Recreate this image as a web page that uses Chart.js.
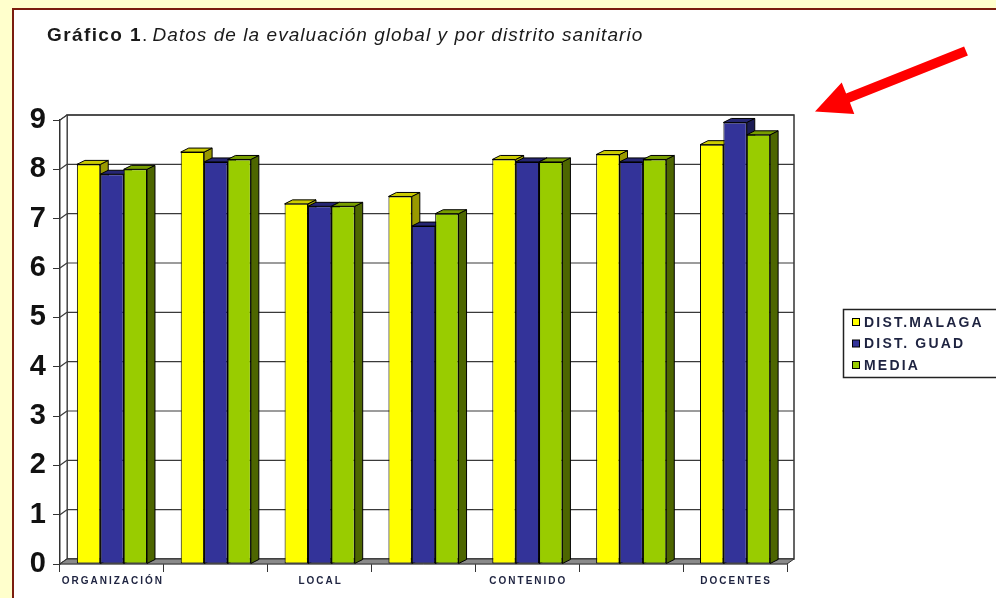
<!DOCTYPE html>
<html>
<head>
<meta charset="utf-8">
<script src="https://cdn.jsdelivr.net/npm/chart.js@4.4.1/dist/chart.umd.min.js"></script>
<style>
  html, body { margin: 0; padding: 0; width: 996px; height: 598px; overflow: hidden; background: #FFFFCC; }
  #frame { position: absolute; left: 12px; top: 8px; width: 1000px; height: 600px; background: #fff;
           border-left: 2px solid #7B1D0E; border-top: 2px solid #7B1D0E; box-sizing: border-box; }
  #wrap { position: absolute; left: 0; top: 0; width: 996px; height: 598px; }
  #title { position: absolute; left: 47px; top: 24px; font-family: "Liberation Sans", Arial, sans-serif;
           font-size: 19px; color: #1a1a1a; white-space: nowrap; }
  #title b { letter-spacing: 1.4px; }
  #title i { letter-spacing: 1.05px; }
</style>
</head>
<body>
<div id="frame"></div>
<div id="wrap"><canvas id="c" width="996" height="598"></canvas></div>
<div id="title"><b>Gráfico 1</b>. <i>Datos de la evaluación global y por distrito sanitario</i></div>
<script>
// Categories (only every other one carries a printed label on the axis)
const categories = ['ORGANIZACIÓN', '', 'LOCAL', '', 'CONTENIDO', '', 'DOCENTES'];

// Series values
const distMalaga = [8.1, 8.35, 7.3, 7.45, 8.2, 8.3, 8.5];
const distGuad   = [7.9, 8.15, 7.25, 6.85, 8.15, 8.15, 8.95];
const media      = [8.0, 8.2, 7.25, 7.1, 8.15, 8.2, 8.7];

const seriesNames = ['DIST.MALAGA', 'DIST. GUAD', 'MEDIA'];

// Value axis ticks
const yMin = 0, yMax = 9, yStep = 1;

// Face colours: front, top, side
const frontColors = ['#FFFF00', '#333399', '#99CC00'];
const topColors   = ['#CCCC00', '#262673', '#789E00'];
const sideColors  = ['#999900', '#1C1C55', '#4D6600'];

const FONT = '"Liberation Sans", Arial, sans-serif';
const WALL = { dx: 7, dy: 5 };   // depth of back wall
const BAR  = { dx: 8, dy: 4 };   // depth of each column

// Draws walls, floor, back gridlines and the top/side faces of the columns
const scene3d = {
  id: 'scene3d',
  beforeDatasetsDraw(chart) {
    const ctx = chart.ctx, a = chart.chartArea, ys = chart.scales.y;
    ctx.save();
    ctx.lineJoin = 'miter';
    // back wall
    ctx.fillStyle = '#fff';
    ctx.strokeStyle = '#333';
    ctx.lineWidth = 1.5;
    ctx.fillRect(a.left + WALL.dx, a.top - WALL.dy, a.right - a.left, a.bottom - a.top);
    ctx.strokeRect(a.left + WALL.dx, a.top - WALL.dy, a.right - a.left, a.bottom - a.top);
    // left side wall
    ctx.beginPath();
    ctx.moveTo(a.left, a.top);
    ctx.lineTo(a.left + WALL.dx, a.top - WALL.dy);
    ctx.lineTo(a.left + WALL.dx, a.bottom - WALL.dy);
    ctx.lineTo(a.left, a.bottom);
    ctx.closePath();
    ctx.fill();
    ctx.lineWidth = 1;
    ctx.stroke();
    // gridlines on the back wall + connectors on the side wall
    ctx.strokeStyle = '#3a3a3a';
    ctx.lineWidth = 1.2;
    for (let v = yMin; v <= yMax; v += yStep) {
      const py = ys.getPixelForValue(v);
      ctx.beginPath();
      ctx.moveTo(a.left + WALL.dx, py - WALL.dy);
      ctx.lineTo(a.right + WALL.dx, py - WALL.dy);
      ctx.stroke();
      ctx.beginPath();
      ctx.moveTo(a.left, py);
      ctx.lineTo(a.left + WALL.dx, py - WALL.dy);
      ctx.stroke();
    }
    // floor
    ctx.beginPath();
    ctx.moveTo(a.left, a.bottom);
    ctx.lineTo(a.left + WALL.dx, a.bottom - WALL.dy);
    ctx.lineTo(a.right + WALL.dx, a.bottom - WALL.dy);
    ctx.lineTo(a.right, a.bottom);
    ctx.closePath();
    ctx.fillStyle = '#8a8a8a';
    ctx.fill();
    ctx.strokeStyle = '#333';
    ctx.lineWidth = 1;
    ctx.stroke();

    // column top and side faces, left to right
    ctx.strokeStyle = '#000';
    ctx.lineWidth = 1;
    const n = chart.data.labels.length;
    for (let j = 0; j < n; j++) {
      chart.data.datasets.forEach((ds, i) => {
        const el = chart.getDatasetMeta(i).data[j];
        const p = el.getProps(['x', 'y', 'width', 'base'], true);
        const x1 = p.x - p.width / 2, x2 = p.x + p.width / 2;
        // side
        ctx.beginPath();
        ctx.moveTo(x2, p.y);
        ctx.lineTo(x2 + BAR.dx, p.y - BAR.dy);
        ctx.lineTo(x2 + BAR.dx, p.base - BAR.dy);
        ctx.lineTo(x2, p.base);
        ctx.closePath();
        ctx.fillStyle = sideColors[i];
        ctx.fill();
        ctx.stroke();
        // top
        ctx.beginPath();
        ctx.moveTo(x1, p.y);
        ctx.lineTo(x1 + BAR.dx, p.y - BAR.dy);
        ctx.lineTo(x2 + BAR.dx, p.y - BAR.dy);
        ctx.lineTo(x2, p.y);
        ctx.closePath();
        ctx.fillStyle = topColors[i];
        ctx.fill();
        ctx.stroke();
      });
    }
    ctx.restore();
  },
  afterDraw(chart) {
    const ctx = chart.ctx, xs = chart.scales.x;
    ctx.save();
    // category labels
    ctx.font = 'bold 10px ' + FONT;
    ctx.fillStyle = '#1E2340';
    ctx.textAlign = 'center';
    ctx.textBaseline = 'middle';
    ctx.letterSpacing = '2px';
    chart.data.labels.forEach((lab, j) => {
      if (lab) ctx.fillText(lab, xs.getPixelForValue(j) + 1, 581);
    });

    // legend box
    ctx.letterSpacing = '0px';
    ctx.strokeStyle = '#222';
    ctx.lineWidth = 1.5;
    ctx.fillStyle = '#fff';
    ctx.fillRect(843.5, 309.5, 200, 68);
    ctx.strokeRect(843.5, 309.5, 200, 68);
    ctx.font = 'bold 14px ' + FONT;
    ctx.textAlign = 'left';
    ctx.letterSpacing = '2.2px';
    const rowY = [322, 343.5, 365];
    chart.data.datasets.forEach((ds, i) => {
      ctx.fillStyle = frontColors[i];
      ctx.fillRect(852.5, rowY[i] - 3.5, 7, 7);
      ctx.strokeStyle = '#000';
      ctx.lineWidth = 1;
      ctx.strokeRect(852.5, rowY[i] - 3.5, 7, 7);
      ctx.fillStyle = '#1E2340';
      ctx.fillText(ds.label, 864, rowY[i] + 1);
    });

    // pointer arrow
    ctx.letterSpacing = '0px';
    ctx.fillStyle = '#FF0000';
    ctx.beginPath();
    ctx.moveTo(964.1, 46.4);
    ctx.lineTo(846.1, 93.4);
    ctx.lineTo(841.7, 82.5);
    ctx.lineTo(815, 111.5);
    ctx.lineTo(854.3, 114);
    ctx.lineTo(849.9, 102.6);
    ctx.lineTo(967.9, 55.6);
    ctx.closePath();
    ctx.fill();
    ctx.restore();
  }
};

new Chart(document.getElementById('c'), {
  type: 'bar',
  data: {
    labels: categories,
    datasets: [distMalaga, distGuad, media].map((vals, i) => ({
      label: seriesNames[i],
      data: vals,
      backgroundColor: frontColors[i],
      borderColor: '#000',
      borderWidth: 1,
      borderSkipped: false,
      barPercentage: 1,
      categoryPercentage: 0.675
    }))
  },
  options: {
    responsive: false,
    animation: false,
    devicePixelRatio: 1,
    layout: { padding: { left: 0, top: 120, right: 209, bottom: 0 } },
    plugins: { legend: { display: false }, title: { display: false }, tooltip: { enabled: false } },
    scales: {
      x: {
        grid: { display: true, drawOnChartArea: false, drawTicks: true, tickLength: 8, color: '#333', offset: true },
        border: { display: true, color: '#333', width: 1.2 },
        ticks: { callback: () => '' },
        afterFit(s) { s.height = 34; }
      },
      y: {
        min: yMin, max: yMax,
        grid: { display: true, drawOnChartArea: false, drawTicks: true, tickLength: 7, color: '#333' },
        border: { display: true, color: '#333', width: 1.2 },
        ticks: { stepSize: yStep, padding: 7, color: '#111', font: { family: FONT, size: 29, weight: 'bold' } },
        afterFit(s) { s.width = 60; }
      }
    }
  },
  plugins: [scene3d]
});
</script>
</body>
</html>
